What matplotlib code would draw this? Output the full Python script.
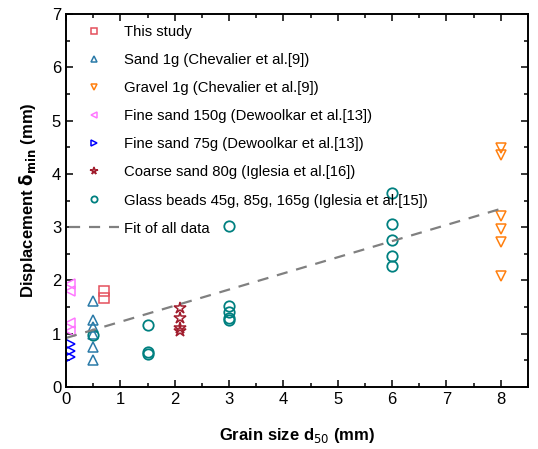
import numpy as np
import matplotlib.pyplot as plt
from matplotlib.ticker import MultipleLocator

plt.rcParams['font.family'] = ['Liberation Sans', 'DejaVu Sans']

# data
this_x = [0.7, 0.7]
this_y = [1.8, 1.67]

sand1g_x = [0.5] * 6
sand1g_y = [1.62, 1.26, 1.13, 1.0, 0.76, 0.51]

gravel_x = [8.0] * 6
gravel_y = [4.48, 4.35, 3.21, 2.96, 2.72, 2.08]

fine150_x = [0.075] * 4
fine150_y = [1.93, 1.8, 1.2, 1.05]

fine75_x = [0.075] * 3
fine75_y = [0.81, 0.68, 0.56]

coarse_x = [2.1] * 4
coarse_y = [1.48, 1.3, 1.1, 1.05]

glass_x = [0.5, 1.5, 1.5, 1.5, 3, 3, 3, 3, 3, 6, 6, 6, 6, 6]
glass_y = [0.97, 1.17, 0.65, 0.62, 3.02, 1.52, 1.41, 1.3, 1.26,
           3.64, 3.06, 2.76, 2.46, 2.27]

fit_intercept = 0.92
fit_slope = 0.303
fit_range = [0, 8]

fig = plt.figure(figsize=(5.38, 4.49), dpi=100)
ax = fig.add_axes([66 / 538, 1 - 387 / 449, 462 / 538, 373 / 449])

ms = 7.5
mew = 1.1
ax.plot(this_x, this_y, 's', ms=ms, mfc='none', mec='#e4505c', mew=mew, label='This study')
ax.plot(sand1g_x, sand1g_y, '^', ms=ms, mfc='none', mec='#2a7aa8', mew=mew, label='Sand 1g (Chevalier et al.[9])')
ax.plot(gravel_x, gravel_y, 'v', ms=ms, mfc='none', mec='#ff7f0e', mew=mew, label='Gravel 1g (Chevalier et al.[9])')
ax.plot(fine150_x, fine150_y, '<', ms=ms, mfc='none', mec='#ff77ff', mew=mew, label='Fine sand 150g (Dewoolkar et al.[13])')
ax.plot(fine75_x, fine75_y, '>', ms=ms, mfc='none', mec='#0000ff', mew=mew, label='Fine sand 75g (Dewoolkar et al.[13])')
ax.plot(coarse_x, coarse_y, '*', ms=ms + 1.5, mfc='none', mec='#a01c2c', mew=mew, label='Coarse sand 80g (Iglesia et al.[16])')
ax.plot(glass_x, glass_y, 'o', ms=ms, mfc='none', mec='#008080', mew=mew + 0.2, label='Glass beads 45g, 85g, 165g (Iglesia et al.[15])')

fx = np.array(fit_range, dtype=float)
ax.plot(fx, fit_intercept + fit_slope * fx, '--', color='#808080', lw=1.6,
        dashes=(5, 4), label='Fit of all data')

ax.set_xlim(0, 8.5)
ax.set_ylim(0, 7)
ax.xaxis.set_major_locator(MultipleLocator(1))
ax.xaxis.set_minor_locator(MultipleLocator(0.5))
ax.yaxis.set_major_locator(MultipleLocator(1))
ax.yaxis.set_minor_locator(MultipleLocator(0.5))
ax.tick_params(which='both', direction='in', top=True, right=True, labelsize=12, width=1.1)
ax.tick_params(which='major', length=5)
ax.tick_params(which='minor', length=3)
for s in ax.spines.values():
    s.set_linewidth(1.4)

ax.set_xlabel('Grain size d$_{50}$ (mm)', fontsize=12, fontweight='bold', labelpad=14)
ax.set_ylabel(r'Displacement $\mathbf{\delta_{min}}$ (mm)', fontsize=12, fontweight='bold', labelpad=10)

ax.legend(loc='upper left', frameon=False, fontsize=10.7, markerscale=0.6,
          handlelength=3.4, handletextpad=0.3, labelspacing=0.95,
          borderaxespad=0.0, borderpad=0.4, bbox_to_anchor=(-0.007, 0.987))

fig.savefig('out.png', dpi=100)
